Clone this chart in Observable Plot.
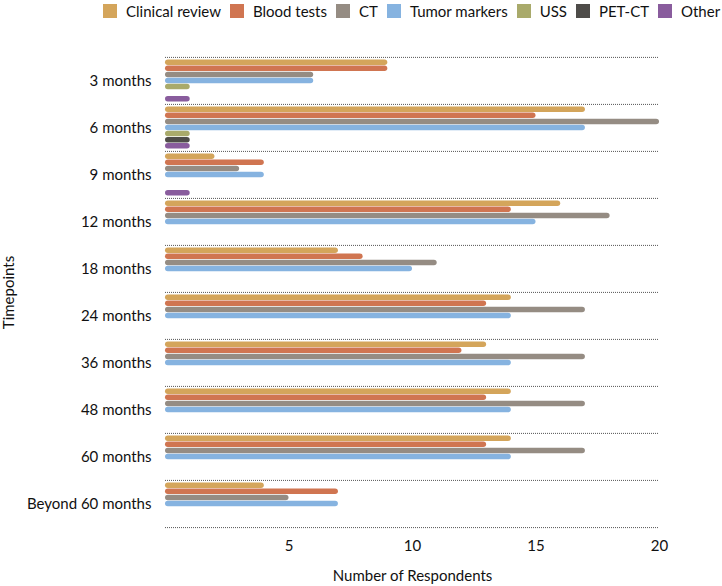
<!DOCTYPE html>
<html>
<head>
<meta charset="utf-8">
<script src="https://cdn.jsdelivr.net/npm/d3@7"></script>
<script src="https://cdn.jsdelivr.net/npm/@observablehq/plot@0.6"></script>
<style>
  html, body { margin: 0; padding: 0; background: #fff; }
  body { width: 722px; height: 586px; overflow: hidden; font-family: Lato, "Noto Sans", sans-serif; color: #111; }
  #legend { display: flex; align-items: center; height: 22px; padding-left: 103px; box-sizing: border-box; font-size: 15px; white-space: nowrap; }
  #legend .item { display: flex; align-items: center; margin-right: 9px; }
  #legend .sw { width: 14px; height: 14px; margin-right: 9px; }
</style>
</head>
<body>
<div id="legend"></div>
<div id="chart"></div>
<script>
const timepoints = ["3 months", "6 months", "9 months", "12 months", "18 months", "24 months", "36 months", "48 months", "60 months", "Beyond 60 months"];
const seriesNames = ["Clinical review", "Blood tests", "CT", "Tumor markers", "USS", "PET-CT", "Other"];
const seriesColors = ["#D4A55B", "#D07551", "#958C83", "#86B3E0", "#A9AA6B", "#4E4C49", "#895C9D"];
const clinicalReview = [9, 17, 2, 16, 7, 14, 13, 14, 14, 4];
const bloodTests     = [9, 15, 4, 14, 8, 13, 12, 13, 13, 7];
const ct             = [6, 20, 3, 18, 11, 17, 17, 17, 17, 5];
const tumorMarkers   = [6, 17, 4, 15, 10, 14, 14, 14, 14, 7];
const uss            = [1, 1, 0, 0, 0, 0, 0, 0, 0, 0];
const petCt          = [0, 1, 0, 0, 0, 0, 0, 0, 0, 0];
const other          = [1, 1, 1, 0, 0, 0, 0, 0, 0, 0];
const xTicks = [5, 10, 15, 20];

const seriesValues = [clinicalReview, bloodTests, ct, tumorMarkers, uss, petCt, other];
const rows = [];
seriesNames.forEach((s, i) => timepoints.forEach((t, j) => rows.push({series: s, timepoint: t, value: seriesValues[i][j]})));

// legend
const legend = document.getElementById("legend");
seriesNames.forEach((s, i) => {
  const it = document.createElement("div"); it.className = "item";
  const sw = document.createElement("div"); sw.className = "sw"; sw.style.background = seriesColors[i];
  const tx = document.createElement("span"); tx.textContent = s;
  it.appendChild(sw); it.appendChild(tx); legend.appendChild(it);
});

const width = 722, height = 564;
const marginTop = 34, marginBottom = 58, marginLeft = 165, marginRight = 63;
const bw = (height - marginTop - marginBottom) / timepoints.length;
const step = 6.1, barH = 5.7;
const top0 = (bw - (6 * step + barH)) / 2;

const marks = [];
marks.push(Plot.ruleY(timepoints, {dy: -bw / 2, stroke: "#555", strokeWidth: 1, strokeDasharray: "1,1"}));
marks.push(Plot.ruleY([timepoints[timepoints.length - 1]], {dy: bw / 2, stroke: "#555", strokeWidth: 1, strokeDasharray: "1,1"}));
seriesNames.forEach((s, i) => {
  const t = top0 + i * step;
  marks.push(Plot.barX(rows.filter(r => r.series === s && r.value > 0), {
    x: "value", y: "timepoint", fill: seriesColors[i],
    insetTop: t, insetBottom: bw - t - barH, rx: barH / 2
  }));
});

const chart = Plot.plot({
  width, height, marginTop, marginBottom, marginLeft, marginRight,
  style: {fontFamily: "Lato, 'Noto Sans', sans-serif", fontSize: "15px", color: "#111", background: "#fff"},
  x: {domain: [0, 20], ticks: xTicks, tickSize: 0, tickPadding: 12, label: "Number of Respondents", labelArrow: false, labelAnchor: "center", labelOffset: 52},
  y: {domain: timepoints, padding: 0, tickSize: 0, tickPadding: 14, label: "Timepoints", labelAnchor: "center", labelOffset: 162},
  marks
});
document.getElementById("chart").appendChild(chart);
</script>
</body>
</html>
